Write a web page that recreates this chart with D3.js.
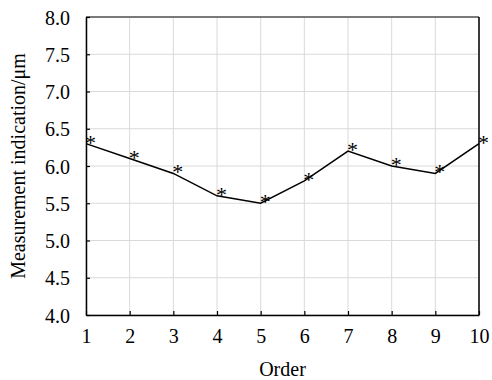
<!DOCTYPE html>
<html>
<head>
<meta charset="utf-8">
<script src="https://cdn.jsdelivr.net/npm/d3@7"></script>
<style>
  body { margin: 0; background: #fff; }
  text { font-family: "Liberation Serif", "Times New Roman", serif; }
</style>
</head>
<body>
<svg id="chart"></svg>
<script>
const width = 492, height = 380;
const margin = { top: 17, right: 13, bottom: 65, left: 86 };

const order = [1, 2, 3, 4, 5, 6, 7, 8, 9, 10];
const indication = [6.3, 6.1, 5.9, 5.6, 5.5, 5.8, 6.2, 6.0, 5.9, 6.3];
const yTicks = [4.0, 4.5, 5.0, 5.5, 6.0, 6.5, 7.0, 7.5, 8.0];

const svg = d3.select('#chart')
  .attr('width', width)
  .attr('height', height);

const x = d3.scaleLinear().domain([1, 10]).range([margin.left, width - margin.right]);
const y = d3.scaleLinear().domain([4, 8]).range([height - margin.bottom, margin.top]);

// Grid
svg.append('g')
  .selectAll('line')
  .data(order)
  .enter()
  .append('line')
  .attr('x1', d => x(d)).attr('x2', d => x(d))
  .attr('y1', y(4)).attr('y2', y(8))
  .attr('stroke', '#d9d9d9');

svg.append('g')
  .selectAll('line')
  .data(yTicks)
  .enter()
  .append('line')
  .attr('x1', x(1)).attr('x2', x(10))
  .attr('y1', d => y(d)).attr('y2', d => y(d))
  .attr('stroke', '#d9d9d9');

// Frame
svg.append('line')
  .attr('x1', x(1)).attr('x2', x(10))
  .attr('y1', y(8)).attr('y2', y(8))
  .attr('stroke', '#555').attr('stroke-width', 1.5);
svg.append('line')
  .attr('x1', x(10)).attr('x2', x(10))
  .attr('y1', y(8)).attr('y2', y(4))
  .attr('stroke', '#000').attr('stroke-width', 1.5);

// Axes
const xAxis = svg.append('g')
  .attr('transform', `translate(0,${y(4)})`)
  .call(d3.axisBottom(x).tickValues(order).tickFormat(d3.format('d')).tickSizeInner(-4).tickSizeOuter(0).tickPadding(14));

const yAxis = svg.append('g')
  .attr('transform', `translate(${x(1)},0)`)
  .call(d3.axisLeft(y).tickValues(yTicks).tickFormat(d3.format('.1f')).tickSizeInner(-4).tickSizeOuter(0).tickPadding(16));

[xAxis, yAxis].forEach(g => {
  g.attr('font-family', '"Liberation Serif", serif').attr('font-size', 20);
  g.select('.domain').attr('stroke', '#000').attr('stroke-width', 1.5);
  g.selectAll('.tick line').attr('stroke', '#000').attr('stroke-width', 1.2);
  g.selectAll('.tick text').attr('fill', '#000');
});
yAxis.selectAll('.tick text').attr('dy', '0.35em');

// Line
const line = d3.line()
  .x((d, i) => x(order[i]))
  .y(d => y(d));

svg.append('path')
  .datum(indication)
  .attr('fill', 'none')
  .attr('stroke', '#000')
  .attr('stroke-width', 1.5)
  .attr('d', line);

// Star markers
svg.append('g')
  .selectAll('text')
  .data(indication)
  .enter()
  .append('text')
  .attr('x', (d, i) => x(order[i]) + 4.5)
  .attr('y', d => y(d) + 6)
  .attr('text-anchor', 'middle')
  .style('font-size', '22px')
  .attr('fill', '#000')
  .text('*');

// Axis titles
svg.append('text')
  .attr('x', (x(1) + x(10)) / 2)
  .attr('y', 376)
  .attr('text-anchor', 'middle')
  .style('font-size', '20px')
  .text('Order');

svg.append('text')
  .attr('transform', `translate(25,${(y(4) + y(8)) / 2}) rotate(-90)`)
  .attr('text-anchor', 'middle')
  .style('font-size', '20px')
  .text('Measurement indication/μm');
</script>
</body>
</html>
